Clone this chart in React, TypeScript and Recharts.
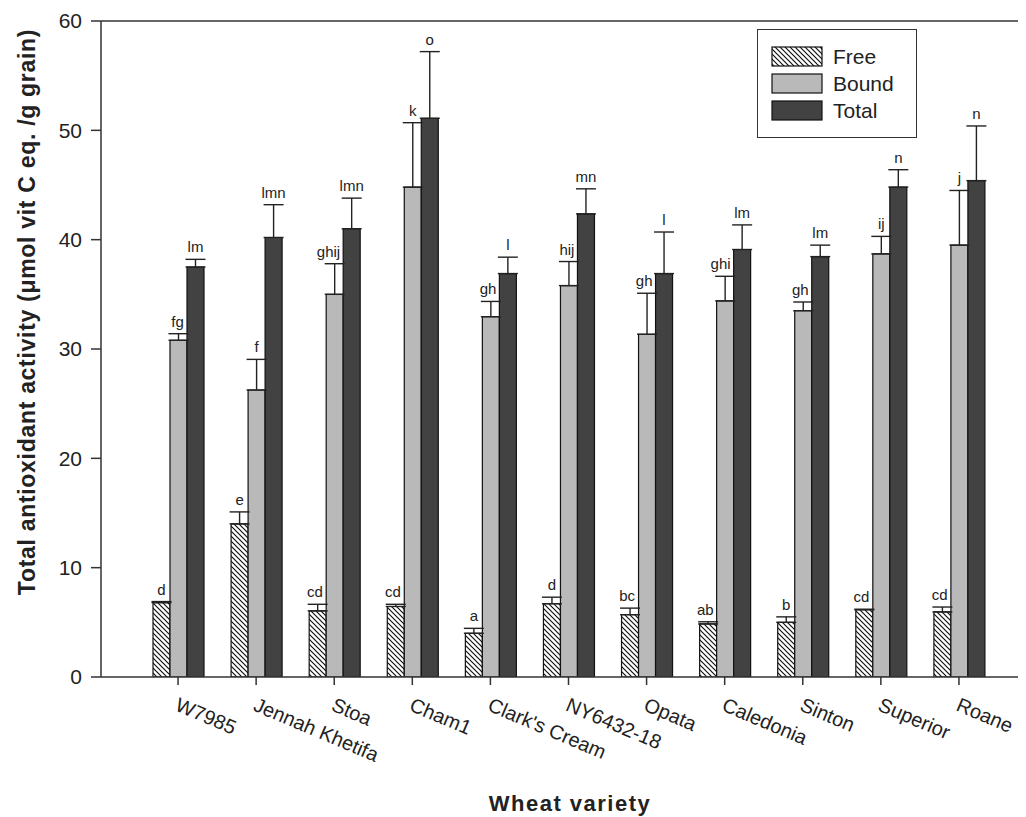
import {
  Bar,
  BarChart,
  ErrorBar,
  LabelList,
  ReferenceLine,
  XAxis,
  YAxis,
} from "recharts";

const varieties = [
  "W7985",
  "Jennah Khetifa",
  "Stoa",
  "Cham1",
  "Clark's Cream",
  "NY6432-18",
  "Opata",
  "Caledonia",
  "Sinton",
  "Superior",
  "Roane",
];

const free = [6.8, 14.0, 6.05, 6.45, 4.0, 6.7, 5.7, 4.85, 5.0, 6.15, 5.95];
const freeErr = [0.1, 1.1, 0.6, 0.2, 0.45, 0.6, 0.6, 0.2, 0.5, 0.05, 0.45];
const bound = [30.8, 26.25, 35.0, 44.8, 32.95, 35.8, 31.35, 34.4, 33.5, 38.7, 39.5];
const boundErr = [0.6, 2.8, 2.8, 5.9, 1.4, 2.2, 3.75, 2.25, 0.8, 1.6, 5.0];
const total = [37.5, 40.2, 41.0, 51.1, 36.9, 42.35, 36.9, 39.1, 38.45, 44.8, 45.4];
const totalErr = [0.7, 3.0, 2.8, 6.1, 1.5, 2.3, 3.8, 2.25, 1.05, 1.6, 5.0];

const freeLetters = ["d", "e", "cd", "cd", "a", "d", "bc", "ab", "b", "cd", "cd"];
const boundLetters = ["fg", "f", "ghij", "k", "gh", "hij", "gh", "ghi", "gh", "ij", "j"];
const totalLetters = ["lm", "lmn", "lmn", "o", "l", "mn", "l", "lm", "lm", "n", "n"];

const yTicks = [0, 10, 20, 30, 40, 50, 60];

const data = varieties.map((name, i) => ({
  name,
  free: free[i],
  freeErr: [0, freeErr[i]],
  bound: bound[i],
  boundErr: [0, boundErr[i]],
  total: total[i],
  totalErr: [0, totalErr[i]],
}));

const FONT = "'Liberation Sans', Arial, Helvetica, sans-serif";
const INK = "#222";
const AXIS = "#333";
const LETTER_SIZE = 15;

// rough Arial advance widths, only used to keep letters clear of the next bar
const textWidth = (s: string) =>
  s.split("").reduce((w, c) => {
    if ("ijl".includes(c)) return w + 0.222 * LETTER_SIZE;
    if (c === "m") return w + 0.833 * LETTER_SIZE;
    if ("fr".includes(c)) return w + 0.3 * LETTER_SIZE;
    return w + 0.556 * LETTER_SIZE;
  }, 0);

// all three letters drawn from the Total bar's label layer;
// free/bound bars sit one and two bar-widths to the left (barGap 0)
const GroupLetters = (props: any) => {
  const { x, y, width, height, index } = props;
  const pxPerUnit = height / total[index];
  const base = y + height;
  const fit = (center: string, barRight: number, cx: number) =>
    Math.min(cx, barRight - 3 - textWidth(center) / 2);
  const items = [
    {
      cx: fit(freeLetters[index], x - width, x - 1.5 * width),
      top: free[index] + freeErr[index],
      text: freeLetters[index],
    },
    {
      cx: fit(boundLetters[index], x, x - 0.5 * width),
      top: bound[index] + boundErr[index],
      text: boundLetters[index],
    },
    { cx: x + 0.5 * width, top: total[index] + totalErr[index], text: totalLetters[index] },
  ];
  return (
    <g>
      {items.map((it, k) => (
        <text
          key={k}
          x={it.cx}
          y={base - it.top * pxPerUnit - 7}
          textAnchor="middle"
          fontSize={LETTER_SIZE}
          fontFamily={FONT}
          fill={INK}
        >
          {it.text}
        </text>
      ))}
    </g>
  );
};

const XTick = ({ x, y, payload }: any) => {
  const tx = x - 4;
  const ty = y + 25;
  return (
    <text
      x={tx}
      y={ty}
      transform={`rotate(23, ${tx}, ${ty})`}
      textAnchor="start"
      fontSize={20}
      fontFamily={FONT}
      fill={INK}
    >
      {payload.value}
    </text>
  );
};

const YTitle = () => (
  <text
    x={19}
    y={304}
    transform="rotate(-90, 19, 304)"
    textAnchor="middle"
    dominantBaseline="central"
    fontSize={23}
    fontWeight="bold"
    letterSpacing={0.7}
    fontFamily={FONT}
    fill={INK}
  >
    Total antioxidant activity  (μmol vit C eq. /g grain)
  </text>
);

const XTitle = () => (
  <text
    x={562}
    y={803}
    textAnchor="middle"
    fontSize={22}
    fontWeight="bold"
    letterSpacing={1.5}
    fontFamily={FONT}
    fill={INK}
  >
    Wheat variety
  </text>
);

const legendItems = [
  { label: "Free", fill: "url(#legendHatch)" },
  { label: "Bound", fill: "#b9b9b9" },
  { label: "Total", fill: "#424242" },
];

const LegendBox = () => (
  <div
    style={{
      position: "absolute",
      left: 749,
      top: 21,
      width: 160,
      height: 109,
      border: `1.5px solid ${AXIS}`,
      boxSizing: "border-box",
      background: "#fff",
      fontFamily: FONT,
    }}
  >
    <svg width={157} height={106} style={{ position: "absolute", left: 0, top: 0 }}>
      <defs>
        <pattern id="legendHatch" patternUnits="userSpaceOnUse" width={5} height={5}>
          <rect width={5} height={5} fill="#fff" />
          <path d="M0,0 L5,5 M-1,4 L1,6 M4,-1 L6,1" stroke="#111" strokeWidth={1.2} />
        </pattern>
      </defs>
      {legendItems.map((item, i) => (
        <g key={item.label}>
          <rect
            x={14}
            y={17 + i * 27}
            width={50}
            height={19}
            fill={item.fill}
            stroke="#111"
            strokeWidth={1.2}
          />
          <text x={75} y={34 + i * 27} fontSize={21} fill={INK} fontFamily={FONT}>
            {item.label}
          </text>
        </g>
      ))}
    </svg>
  </div>
);

export default function App() {
  return (
    <div style={{ position: "relative", width: 1018, height: 809 }}>
      <BarChart
        width={1018}
        height={809}
        data={data}
        margin={{ top: 13, right: 6, left: 13, bottom: 40 }}
        barGap={0}
        barSize={17}
      >
        <defs>
          <pattern id="freeHatch" patternUnits="userSpaceOnUse" width={5} height={5}>
            <rect width={5} height={5} fill="#fff" />
            <path d="M0,0 L5,5 M-1,4 L1,6 M4,-1 L6,1" stroke="#111" strokeWidth={1.2} />
          </pattern>
        </defs>
        <XAxis
          dataKey="name"
          height={100}
          padding={{ left: 38, right: 22 }}
          tickSize={8}
          tickMargin={0}
          tick={<XTick />}
          axisLine={{ stroke: AXIS, strokeWidth: 1.5 }}
          tickLine={{ stroke: AXIS, strokeWidth: 1.5 }}
          interval={0}
          label={<XTitle />}
        />
        <YAxis
          width={80}
          domain={[0, 60]}
          ticks={yTicks}
          allowDataOverflow
          tickSize={10}
          tickMargin={9}
          tick={{ fontSize: 21, fill: INK, fontFamily: FONT }}
          axisLine={{ stroke: AXIS, strokeWidth: 1.5 }}
          tickLine={{ stroke: AXIS, strokeWidth: 1.5 }}
          label={<YTitle />}
        />
        <ReferenceLine y={60} stroke={AXIS} strokeWidth={1.5} />
        <Bar dataKey="free" fill="url(#freeHatch)" stroke="#111" strokeWidth={1.2} isAnimationActive={false}>
          <ErrorBar dataKey="freeErr" width={10} stroke={INK} strokeWidth={1.4} direction="y" />
        </Bar>
        <Bar dataKey="bound" fill="#b9b9b9" stroke="#111" strokeWidth={1.2} isAnimationActive={false}>
          <ErrorBar dataKey="boundErr" width={10} stroke={INK} strokeWidth={1.4} direction="y" />
        </Bar>
        <Bar dataKey="total" fill="#424242" stroke="#111" strokeWidth={1.2} isAnimationActive={false}>
          <ErrorBar dataKey="totalErr" width={10} stroke={INK} strokeWidth={1.4} direction="y" />
          <LabelList dataKey="total" content={GroupLetters} />
        </Bar>
      </BarChart>
      <LegendBox />
    </div>
  );
}
